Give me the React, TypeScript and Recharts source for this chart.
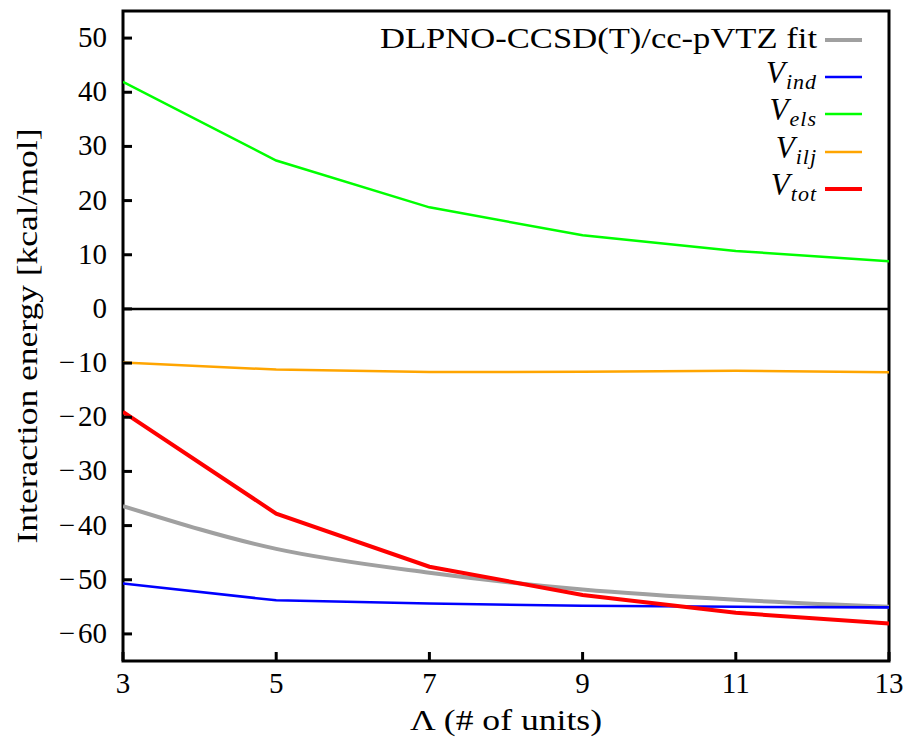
import { LineChart, Line, XAxis, YAxis, ReferenceLine, ReferenceArea } from 'recharts';

// Λ values (number of units)
const units = [3, 5, 7, 9, 11, 13];

// interaction energies in kcal/mol
const fitValues = [-36.4, -44.3, -48.7, -51.8, -53.7, -55.0];
const indValues = [-50.7, -53.8, -54.4, -54.8, -55.0, -55.1];
const elsValues = [41.9, 27.4, 18.75, 13.6, 10.7, 8.8];
const iljValues = [-9.9, -11.2, -11.65, -11.6, -11.4, -11.7];
const totValues = [-19.0, -37.8, -47.6, -52.8, -56.1, -58.1];

const xTicks = [3, 5, 7, 9, 11, 13];
const yTicks = [-60, -50, -40, -30, -20, -10, 0, 10, 20, 30, 40, 50];

const chartData = units.map((x, i) => ({
  x,
  fit: fitValues[i],
  ind: indValues[i],
  els: elsValues[i],
  ilj: iljValues[i],
  tot: totValues[i],
}));

const FONT = '"Liberation Serif", "DejaVu Serif", serif';

const legendItems = [
  { key: 'fit', sub: null, color: '#a0a0a0', width: 4 },
  { key: 'ind', sub: 'ind', color: '#0000ff', width: 2.5 },
  { key: 'els', sub: 'els', color: '#00ff00', width: 2.5 },
  { key: 'ilj', sub: 'ilj', color: '#ffa500', width: 2.5 },
  { key: 'tot', sub: 'tot', color: '#ff0000', width: 4 },
];

const fmt = (v: number) => (v < 0 ? `\u2212${Math.abs(v)}` : `${v}`);

function XTick(props: any) {
  const { x, y, payload } = props;
  return (
    <g>
      <line x1={x} y1={y} x2={x} y2={y - 9} stroke="#000" strokeWidth={3} />
      <text x={x} y={y + 32} textAnchor="middle" fontFamily={FONT} fontSize={29} fill="#000">
        {payload.value}
      </text>
    </g>
  );
}

function YTick(props: any) {
  const { x, y, payload } = props;
  const label = fmt(payload.value);
  return (
    <g>
      <line x1={x} y1={y} x2={x + 9} y2={y} stroke="#000" strokeWidth={3} />
      <text x={x - 16} y={y + 9} textAnchor="end" fontFamily={FONT} fontSize={29} fill="#000">
        {payload.value < 0 ? (
          <>
            <tspan>{'\u2212'}</tspan>
            <tspan dx={3}>{Math.abs(payload.value)}</tspan>
          </>
        ) : (
          label
        )}
      </text>
    </g>
  );
}

function YLabel(props: any) {
  const { viewBox } = props;
  const cy = viewBox.y + viewBox.height / 2;
  return (
    <text
      x={37}
      y={cy}
      transform={`rotate(-90, 37, ${cy})`}
      textAnchor="middle"
      fontFamily={FONT}
      fontSize={30}
      textLength={415}
      lengthAdjust="spacingAndGlyphs"
      fill="#000"
    >
      Interaction energy [kcal/mol]
    </text>
  );
}

function XLabel(props: any) {
  const { viewBox } = props;
  const cx = viewBox.x + viewBox.width / 2;
  return (
    <text
      x={cx}
      y={730}
      textAnchor="middle"
      fontFamily={FONT}
      fontSize={30}
      textLength={192}
      lengthAdjust="spacingAndGlyphs"
      fill="#000"
    >
      {'\u039b (# of units)'}
    </text>
  );
}

// legend drawn top right, inside the frame
function LegendOverlay() {
  const rowY = [40, 77, 114, 152, 189];
  const textRight = 817;
  return (
    <svg
      width={909}
      height={742}
      style={{ position: 'absolute', left: 0, top: 0, pointerEvents: 'none' }}
    >
      {legendItems.map((it, i) => (
        <g key={it.key}>
          {it.sub === null ? (
            <text
              x={textRight - 437}
              y={rowY[i] + 8}
              fontFamily={FONT}
              fontSize={30}
              textLength={437}
              lengthAdjust="spacingAndGlyphs"
              fill="#000"
            >
              DLPNO-CCSD(T)/cc-pVTZ fit
            </text>
          ) : (
            <text x={textRight} y={rowY[i] + 6} textAnchor="end" fontFamily={FONT} fontStyle="italic" fill="#000">
              <tspan fontSize={31}>V</tspan>
              <tspan fontSize={22} dy={6} dx={1} letterSpacing={1}>
                {it.sub}
              </tspan>
            </text>
          )}
          <line
            x1={825}
            x2={862}
            y1={rowY[i]}
            y2={rowY[i]}
            stroke={it.color}
            strokeWidth={it.width}
          />
        </g>
      ))}
    </svg>
  );
}

export default function App() {
  return (
    <div style={{ position: 'absolute', left: 0, top: 0, width: 909, height: 742, background: '#fff' }}>
      <LineChart
        width={909}
        height={742}
        data={chartData}
        margin={{ top: 11, right: 20, left: 0, bottom: 0 }}
      >
        <XAxis
          dataKey="x"
          type="number"
          domain={[3, 13]}
          ticks={xTicks}
          allowDataOverflow
          height={81}
          axisLine={false}
          tickLine={false}
          tickSize={0}
          tickMargin={0}
          tick={<XTick />}
          label={<XLabel />}
        />
        <YAxis
          type="number"
          domain={[-65, 55]}
          ticks={yTicks}
          allowDataOverflow
          width={123}
          axisLine={false}
          tickLine={false}
          tickSize={0}
          tickMargin={0}
          tick={<YTick />}
          label={<YLabel />}
        />
        <ReferenceLine y={0} stroke="#000" strokeWidth={2.5} />
        <Line type="linear" dataKey="els" stroke="#00ff00" strokeWidth={2.5} dot={false} isAnimationActive={false} />
        <Line type="linear" dataKey="ilj" stroke="#ffa500" strokeWidth={2.5} dot={false} isAnimationActive={false} />
        <Line type="monotone" dataKey="fit" stroke="#a0a0a0" strokeWidth={4} dot={false} isAnimationActive={false} />
        <Line type="linear" dataKey="ind" stroke="#0000ff" strokeWidth={2.5} dot={false} isAnimationActive={false} />
        <Line type="linear" dataKey="tot" stroke="#ff0000" strokeWidth={4} dot={false} isAnimationActive={false} />
        <ReferenceArea
          x1={3}
          x2={13}
          y1={-65}
          y2={55}
          ifOverflow="visible"
          fill="none"
          fillOpacity={0}
          stroke="#000"
          strokeWidth={3}
          strokeOpacity={1}
        />
      </LineChart>
      <LegendOverlay />
    </div>
  );
}
